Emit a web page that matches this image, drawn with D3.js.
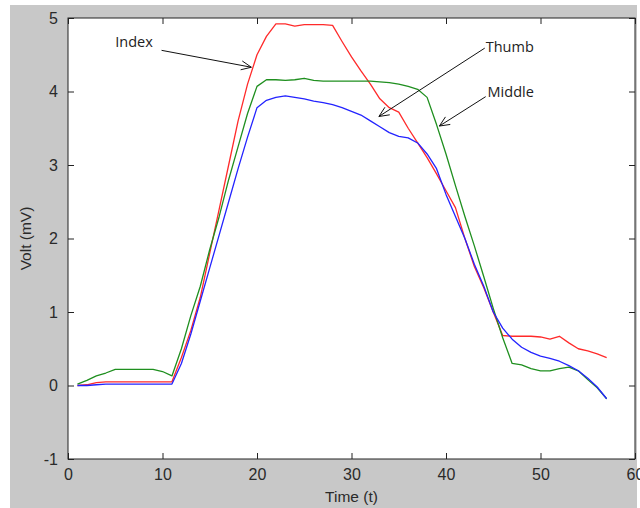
<!DOCTYPE html>
<html>
<head>
<meta charset="utf-8">
<script src="https://cdn.jsdelivr.net/npm/d3@7"></script>
<style>
  body { margin: 0; background: #fff; }
  svg { display: block; }
</style>
</head>
<body>
<svg id="chart" width="640" height="508"></svg>
<script>
// time samples 1..57
const times = d3.range(1, 58);

// Index finger (red)
const indexVolts = [
  0.00, 0.01, 0.04, 0.05, 0.05, 0.05, 0.05, 0.05, 0.05, 0.05,
  0.05, 0.38, 0.75, 1.20, 1.80, 2.40, 3.00, 3.60, 4.10, 4.50,
  4.75, 4.92, 4.92, 4.89, 4.91, 4.91, 4.91, 4.90, 4.68, 4.47,
  4.28, 4.10, 3.90, 3.78, 3.72, 3.50, 3.30, 3.10, 2.88, 2.65,
  2.42, 2.00, 1.62, 1.33, 1.00, 0.68, 0.67, 0.67, 0.67, 0.66,
  0.63, 0.67, 0.58, 0.50, 0.47, 0.43, 0.38
];

// Middle finger (green)
const middleVolts = [
  0.02, 0.07, 0.13, 0.17, 0.22, 0.22, 0.22, 0.22, 0.22, 0.19,
  0.13, 0.50, 0.95, 1.35, 1.85, 2.30, 2.80, 3.25, 3.70, 4.07,
  4.16, 4.16, 4.15, 4.16, 4.18, 4.15, 4.14, 4.14, 4.14, 4.14,
  4.14, 4.14, 4.13, 4.12, 4.10, 4.07, 4.03, 3.92, 3.55, 3.15,
  2.72, 2.30, 1.90, 1.48, 1.05, 0.65, 0.30, 0.28, 0.23, 0.20,
  0.20, 0.23, 0.25, 0.20, 0.08, -0.03, -0.18
];

// Thumb (blue)
const thumbVolts = [
  0.00, 0.00, 0.01, 0.02, 0.02, 0.02, 0.02, 0.02, 0.02, 0.02,
  0.02, 0.30, 0.70, 1.15, 1.60, 2.05, 2.50, 2.95, 3.38, 3.78,
  3.88, 3.92, 3.94, 3.92, 3.90, 3.87, 3.85, 3.82, 3.78, 3.73,
  3.68, 3.60, 3.52, 3.44, 3.39, 3.37, 3.30, 3.15, 2.95, 2.60,
  2.30, 2.00, 1.65, 1.35, 1.00, 0.78, 0.63, 0.52, 0.45, 0.40,
  0.37, 0.33, 0.27, 0.20, 0.10, -0.02, -0.18
];

const xTicks = [0, 10, 20, 30, 40, 50, 60];
const yTicks = [-1, 0, 1, 2, 3, 4, 5];

// annotation labels: text anchor point, arrow start, arrow tip (in data units)
const notes = [
  { label: 'Index',  text: [5.0, 4.61], from: [9.9, 4.56], to: [19.4, 4.33] },
  { label: 'Thumb',  text: [44.2, 4.54], from: [44.1, 4.59], to: [32.9, 3.66] },
  { label: 'Middle', text: [44.4, 3.93], from: [44.2, 3.93], to: [39.3, 3.53] }
];

const svg = d3.select('#chart');
const plotLeft = 68, plotRight = 635, plotTop = 18, plotBottom = 459;

// figure background
svg.append('rect')
  .attr('x', 10).attr('y', 5)
  .attr('width', 627).attr('height', 503)
  .attr('fill', '#c8c8c8');

let x = d3.scaleLinear().domain([0, 60]).range([plotLeft, plotRight]);
let y = d3.scaleLinear().domain([-1, 5]).range([plotBottom, plotTop]);

svg.append('rect')
  .attr('x', plotLeft).attr('y', plotTop)
  .attr('width', plotRight - plotLeft).attr('height', plotBottom - plotTop)
  .attr('fill', '#fff');

let plot = svg.append('g');

let series = [
  { values: indexVolts, color: '#ff2a2a' },
  { values: middleVolts, color: '#1f8f1f' },
  { values: thumbVolts, color: '#2323ff' }
];

let line = d3.line()
  .x((d, i) => x(times[i]))
  .y(d => y(d));

// blue drawn last so it sits on top like the original
series.forEach(s => {
  plot.append('path')
    .attr('d', line(s.values))
    .attr('fill', 'none')
    .attr('stroke', s.color)
    .attr('stroke-width', 1.3)
    .attr('stroke-linejoin', 'round');
});

// axes, MATLAB style: ticks pointing inward on all four sides
let tickLen = 6;
let axisFont = 'Liberation Sans, Arial, sans-serif';
let fmt = d => String(d);

let bottomAxis = d3.axisBottom(x).tickValues(xTicks).tickFormat(fmt).tickSize(-tickLen).tickPadding(tickLen + 4);
let topAxis = d3.axisTop(x).tickValues(xTicks).tickSize(-tickLen).tickFormat('');
let leftAxis = d3.axisLeft(y).tickValues(yTicks).tickFormat(fmt).tickSize(-tickLen).tickPadding(tickLen + 4);
let rightAxis = d3.axisRight(y).tickValues(yTicks).tickSize(-tickLen).tickFormat('');

let styleAxis = g => {
  g.select('.domain').remove();
  g.selectAll('line').attr('stroke', '#222');
  g.selectAll('text')
    .attr('fill', '#2a2a2a')
    .style('font-family', axisFont)
    .style('font-size', '16px');
};

svg.append('g').attr('transform', 'translate(0,' + plotBottom + ')').call(bottomAxis).call(styleAxis);
svg.append('g').attr('transform', 'translate(0,' + plotTop + ')').call(topAxis).call(styleAxis);
svg.append('g').attr('transform', 'translate(' + plotLeft + ',0)').call(leftAxis).call(styleAxis);
svg.append('g').attr('transform', 'translate(' + plotRight + ',0)').call(rightAxis).call(styleAxis);

svg.append('rect')
  .attr('x', plotLeft).attr('y', plotTop)
  .attr('width', plotRight - plotLeft).attr('height', plotBottom - plotTop)
  .attr('fill', 'none')
  .attr('stroke', '#222')
  .attr('stroke-width', 1);

// axis labels
svg.append('text')
  .attr('x', (plotLeft + plotRight) / 2)
  .attr('y', 502)
  .attr('text-anchor', 'middle')
  .attr('fill', '#2a2a2a')
  .style('font-family', axisFont)
  .style('font-size', '15.5px')
  .text('Time (t)');

svg.append('text')
  .attr('transform', 'translate(31,' + ((plotTop + plotBottom) / 2) + ') rotate(-90)')
  .attr('text-anchor', 'middle')
  .attr('fill', '#2a2a2a')
  .style('font-family', axisFont)
  .style('font-size', '15.5px')
  .text('Volt (mV)');

// annotations with open arrow heads
notes.forEach(n => {
  svg.append('text')
    .attr('x', x(n.text[0]))
    .attr('y', y(n.text[1]))
    .attr('fill', '#222')
    .style('font-family', 'Open Sans, sans-serif')
    .style('font-size', '14.5px')
    .text(n.label);

  let x1 = x(n.from[0]), y1 = y(n.from[1]);
  let x2 = x(n.to[0]), y2 = y(n.to[1]);
  svg.append('line')
    .attr('x1', x1).attr('y1', y1)
    .attr('x2', x2).attr('y2', y2)
    .attr('stroke', '#111')
    .attr('stroke-width', 1);

  let ang = Math.atan2(y2 - y1, x2 - x1);
  let head = 11, spread = 0.42;
  let pts = [
    [x2 - head * Math.cos(ang - spread), y2 - head * Math.sin(ang - spread)],
    [x2, y2],
    [x2 - head * Math.cos(ang + spread), y2 - head * Math.sin(ang + spread)]
  ];
  svg.append('path')
    .attr('d', d3.line()(pts))
    .attr('fill', 'none')
    .attr('stroke', '#111')
    .attr('stroke-width', 1);
});
</script>
</body>
</html>
